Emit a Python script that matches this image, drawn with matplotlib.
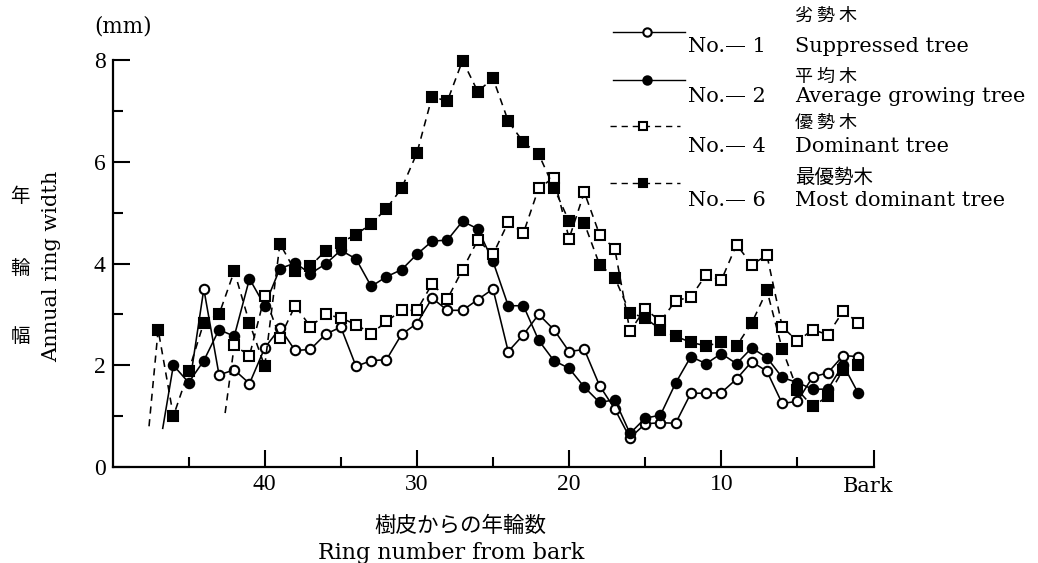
import matplotlib
matplotlib.use("Agg")
from matplotlib import pyplot as plt
from matplotlib.lines import Line2D

plt.rcParams['font.family'] = ['DejaVu Serif', 'Noto Sans CJK JP']

# ############################## data (ring number from bark -> mm) ##############################

# No.-1 suppressed tree, rings 44..1 (plus the start of the line below ring 44)
sup_lead = (44.8, 1.9)
sup_rings = list(range(44, 0, -1))
sup_width = [3.50, 1.81, 1.91, 1.64, 2.34, 2.73, 2.29, 2.31, 2.61, 2.75, 1.98, 2.09, 2.11, 2.61, 2.82,
             3.32, 3.08, 3.08, 3.29, 3.50, 2.27, 2.60, 3.00, 2.70, 2.27, 2.31, 1.60, 1.14, 0.57, 0.85,
             0.87, 0.86, 1.45, 1.45, 1.46, 1.73, 2.07, 1.88, 1.25, 1.29, 1.77, 1.85, 2.19, 2.17]

# No.-2 average growing tree, rings 46..1
avg_lead = (46.7, 0.76)
avg_rings = list(range(46, 0, -1))
avg_width = [2.00, 1.66, 2.09, 2.70, 2.57, 3.70, 3.17, 3.90, 4.01, 3.80, 3.99, 4.26, 4.09, 3.55, 3.74,
             3.88, 4.18, 4.44, 4.46, 4.83, 4.68, 4.04, 3.17, 3.17, 2.49, 2.09, 1.94, 1.57, 1.27, 1.32,
             0.66, 0.96, 1.02, 1.65, 2.17, 2.03, 2.23, 2.03, 2.34, 2.15, 1.76, 1.66, 1.53, 1.53, 2.01, 1.45]

# No.-4 dominant tree, rings 42..1
dom_lead = (42.6, 1.06)
dom_rings = list(range(42, 0, -1))
dom_width = [2.39, 2.19, 3.36, 2.54, 3.17, 2.76, 3.00, 2.93, 2.80, 2.62, 2.86, 3.08, 3.08, 3.60, 3.30,
             3.88, 4.46, 4.18, 4.81, 4.60, 5.48, 5.69, 4.49, 5.40, 4.57, 4.29, 2.67, 3.11, 2.86, 3.27,
             3.34, 3.78, 3.67, 4.37, 3.98, 4.16, 2.76, 2.47, 2.70, 2.60, 3.06, 2.84]

# No.-6 most dominant tree, rings 47..1
mdom_lead = (47.6, 0.8)
mdom_rings = list(range(47, 0, -1))
mdom_width = [2.70, 1.00, 1.88, 2.84, 3.00, 3.85, 2.83, 1.98, 4.39, 3.85, 3.95, 4.25, 4.41, 4.57, 4.78,
              5.08, 5.48, 6.17, 7.28, 7.19, 7.99, 7.38, 7.64, 6.80, 6.38, 6.15, 5.49, 4.83, 4.79, 3.98,
              3.72, 3.03, 2.93, 2.70, 2.57, 2.45, 2.38, 2.45, 2.38, 2.83, 3.47, 2.32, 1.52, 1.19, 1.39,
              1.91, 2.01]

x_major = [40, 30, 20, 10, 0]
x_major_labels = ['40', '30', '20', '10', '']
x_minor = [45, 35, 25, 15, 5]
y_major = [0, 2, 4, 6, 8]
y_minor = [1, 3, 5, 7]

legend_jp = ['劣 勢 木', '平 均 木', '優 勢 木', '最優勢木']
legend_no = ['No.— 1', 'No.— 2', 'No.— 4', 'No.— 6']
legend_en = ['Suppressed tree', 'Average growing tree', 'Dominant tree', 'Most dominant tree']

# ############################################## figure ##############################################################

W, H = 1038, 563


def fx(px):
    return px / W


def fy(py):
    return 1 - py / H


fig = plt.figure(figsize=(W / 100, H / 100), dpi=100)
ax = fig.add_axes([fx(112.5), fy(467), (873.5 - 112.5) / W, (467 - 60) / H])

dash = (0, (4.5, 3.5))
styles = [
    dict(ls='-', marker='o', mfc='white'),
    dict(ls='-', marker='o', mfc='black'),
    dict(ls=dash, marker='s', mfc='white'),
    dict(ls=dash, marker='s', mfc='black'),
]
series = [(sup_lead, sup_rings, sup_width), (avg_lead, avg_rings, avg_width),
          (dom_lead, dom_rings, dom_width), (mdom_lead, mdom_rings, mdom_width)]

for (lead, rings, width), st in zip(series, styles):
    xs = [lead[0]] + rings
    ys = [lead[1]] + width
    ax.plot(xs, ys, color='black', lw=1.15, ls=st['ls'], marker=st['marker'], ms=6.8,
            mfc=st['mfc'], mec='black', mew=1.5, markevery=list(range(1, len(xs))),
            clip_on=False)

ax.set_xlim(50, 0)
ax.set_ylim(0, 8)
for s in ['top', 'right']:
    ax.spines[s].set_visible(False)
for s in ['left', 'bottom']:
    ax.spines[s].set_linewidth(1.6)

ax.set_xticks(x_major)
ax.set_xticklabels(x_major_labels)
ax.set_xticks(x_minor, minor=True)
ax.set_yticks(y_major)
ax.set_yticks(y_minor, minor=True)
ax.tick_params(which='both', direction='in', width=1.5)
ax.tick_params(which='major', length=12, labelsize=17, pad=5)
ax.tick_params(which='minor', length=7)
for lab in ax.get_xticklabels() + ax.get_yticklabels():
    lab.set_family('Liberation Serif')

# axis texts
fig.text(fx(123), fy(27), '(mm)', ha='center', va='center', fontsize=15.5)
fig.text(fx(52), fy(266), 'Annual ring width', rotation=90, ha='center', va='center', fontsize=15)
for ch, py in zip(['年', '輪', '幅'], [197, 268, 336]):
    fig.text(fx(20), fy(py), ch, ha='center', va='center', fontsize=14, family='Noto Sans CJK JP')
fig.text(fx(868), fy(487), 'Bark', ha='center', va='center', fontsize=15)
fig.text(fx(460), fy(526), '樹皮からの年輪数', ha='center', va='center', fontsize=15.5,
         family='Noto Sans CJK JP')
fig.text(fx(451), fy(553), 'Ring number from bark', ha='center', va='center', fontsize=16)

# legend drawn by hand
leg_line_y = [32, 80, 126, 183]
leg_jp_y = [16, 77, 123, 177]
leg_txt_y = [47, 97, 147, 200]
leg_jp_size = [13, 13, 13, 14]
for i, st in enumerate(styles):
    x0, x1 = (613, 685) if i < 2 else (610, 680)
    xm = 647 if i < 2 else 643
    fig.add_artist(Line2D([fx(x0), fx(xm), fx(x1)], [fy(leg_line_y[i])] * 3, transform=fig.transFigure,
                          color='black', lw=1.0, ls=st['ls'], marker=st['marker'], ms=6,
                          mfc=st['mfc'], mec='black', mew=1.5, markevery=[1]))
    fig.text(fx(795), fy(leg_jp_y[i]), legend_jp[i], ha='left', va='center', fontsize=leg_jp_size[i],
             family='Noto Sans CJK JP')
    fig.text(fx(688), fy(leg_txt_y[i]), legend_no[i], ha='left', va='center', fontsize=15)
    fig.text(fx(795), fy(leg_txt_y[i]), legend_en[i], ha='left', va='center', fontsize=15)

fig.savefig('out.png', dpi=100)
